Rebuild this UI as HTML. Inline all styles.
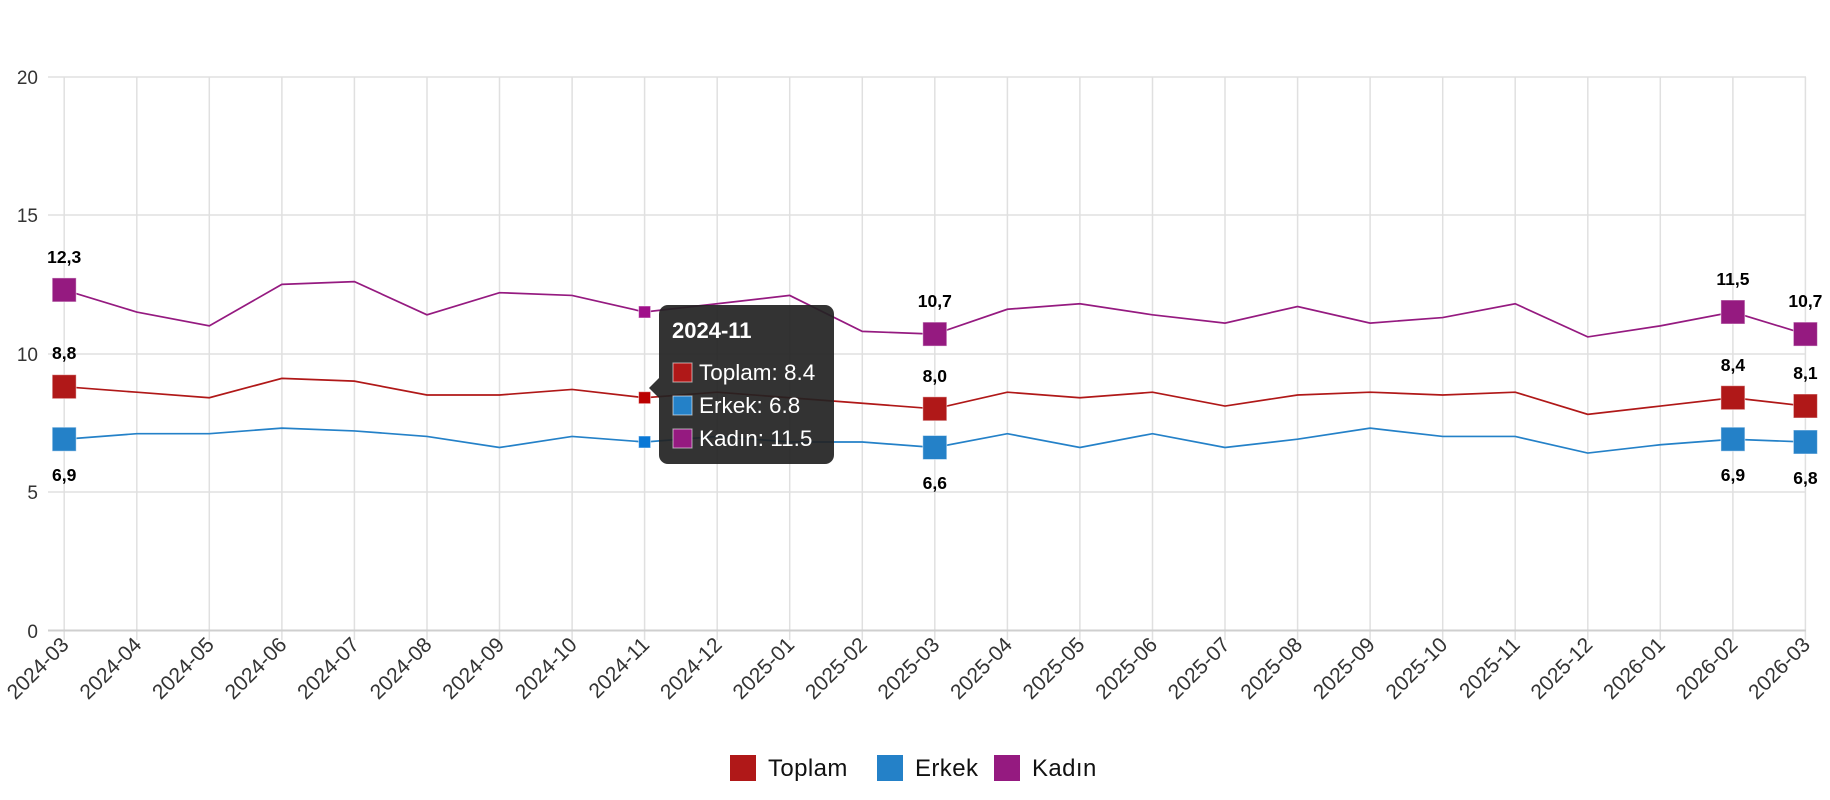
<!DOCTYPE html>
<html><head><meta charset="utf-8"><style>
html,body{margin:0;padding:0;background:#fff;}
svg{display:block;font-family:"Liberation Sans",sans-serif;}
</style></head><body>
<svg width="1830" height="800" viewBox="0 0 1830 800" xmlns="http://www.w3.org/2000/svg">
<g stroke="#e0e0e0" stroke-width="1.5">
<line x1="48" y1="77" x2="1806" y2="77"/><line x1="48" y1="215" x2="1806" y2="215"/><line x1="48" y1="354" x2="1806" y2="354"/><line x1="48" y1="492" x2="1806" y2="492"/>
<line x1="64.2" y1="77" x2="64.2" y2="640"/><line x1="136.8" y1="77" x2="136.8" y2="640"/><line x1="209.3" y1="77" x2="209.3" y2="640"/><line x1="281.9" y1="77" x2="281.9" y2="640"/><line x1="354.4" y1="77" x2="354.4" y2="640"/><line x1="427" y1="77" x2="427" y2="640"/><line x1="499.5" y1="77" x2="499.5" y2="640"/><line x1="572.1" y1="77" x2="572.1" y2="640"/><line x1="644.6" y1="77" x2="644.6" y2="640"/><line x1="717.2" y1="77" x2="717.2" y2="640"/><line x1="789.7" y1="77" x2="789.7" y2="640"/><line x1="862.3" y1="77" x2="862.3" y2="640"/><line x1="934.8" y1="77" x2="934.8" y2="640"/><line x1="1007.4" y1="77" x2="1007.4" y2="640"/><line x1="1079.9" y1="77" x2="1079.9" y2="640"/><line x1="1152.5" y1="77" x2="1152.5" y2="640"/><line x1="1225" y1="77" x2="1225" y2="640"/><line x1="1297.6" y1="77" x2="1297.6" y2="640"/><line x1="1370.1" y1="77" x2="1370.1" y2="640"/><line x1="1442.7" y1="77" x2="1442.7" y2="640"/><line x1="1515.2" y1="77" x2="1515.2" y2="640"/><line x1="1587.8" y1="77" x2="1587.8" y2="640"/><line x1="1660.3" y1="77" x2="1660.3" y2="640"/><line x1="1732.9" y1="77" x2="1732.9" y2="640"/><line x1="1805.4" y1="77" x2="1805.4" y2="640"/>
</g>
<line x1="48" y1="630.5" x2="1806" y2="630.5" stroke="#cfcfcf" stroke-width="2"/>
<g fill="#333" font-size="19" text-anchor="end">
<text x="38" y="84">20</text><text x="38" y="222">15</text><text x="38" y="361">10</text><text x="38" y="499">5</text><text x="38" y="638">0</text>
</g>
<g fill="#333" font-size="21" text-anchor="end">
<text transform="translate(70,646) rotate(-45)">2024-03</text><text transform="translate(142.8,646) rotate(-45)">2024-04</text><text transform="translate(215.3,646) rotate(-45)">2024-05</text><text transform="translate(287.9,646) rotate(-45)">2024-06</text><text transform="translate(360.4,646) rotate(-45)">2024-07</text><text transform="translate(433,646) rotate(-45)">2024-08</text><text transform="translate(505.5,646) rotate(-45)">2024-09</text><text transform="translate(578.1,646) rotate(-45)">2024-10</text><text transform="translate(650.6,646) rotate(-45)">2024-11</text><text transform="translate(723.2,646) rotate(-45)">2024-12</text><text transform="translate(795.7,646) rotate(-45)">2025-01</text><text transform="translate(868.3,646) rotate(-45)">2025-02</text><text transform="translate(940.8,646) rotate(-45)">2025-03</text><text transform="translate(1013.4,646) rotate(-45)">2025-04</text><text transform="translate(1085.9,646) rotate(-45)">2025-05</text><text transform="translate(1158.5,646) rotate(-45)">2025-06</text><text transform="translate(1231,646) rotate(-45)">2025-07</text><text transform="translate(1303.6,646) rotate(-45)">2025-08</text><text transform="translate(1376.1,646) rotate(-45)">2025-09</text><text transform="translate(1448.7,646) rotate(-45)">2025-10</text><text transform="translate(1521.2,646) rotate(-45)">2025-11</text><text transform="translate(1593.8,646) rotate(-45)">2025-12</text><text transform="translate(1666.3,646) rotate(-45)">2026-01</text><text transform="translate(1738.9,646) rotate(-45)">2026-02</text><text transform="translate(1811.4,646) rotate(-45)">2026-03</text>
</g>
<g transform="translate(64.2,630) scale(72.55,-27.65)" fill="none" stroke-width="1.7">
<polyline vector-effect="non-scaling-stroke" stroke="#2481c8" points="0,6.9 1,7.1 2,7.1 3,7.3 4,7.2 5,7.0 6,6.6 7,7.0 8,6.8 9,7.0 10,6.8 11,6.8 12,6.6 13,7.1 14,6.6 15,7.1 16,6.6 17,6.9 18,7.3 19,7.0 20,7.0 21,6.4 22,6.7 23,6.9 24,6.8"/>
<polyline vector-effect="non-scaling-stroke" stroke="#b01818" points="0,8.8 1,8.6 2,8.4 3,9.1 4,9.0 5,8.5 6,8.5 7,8.7 8,8.4 9,8.6 10,8.4 11,8.2 12,8.0 13,8.6 14,8.4 15,8.6 16,8.1 17,8.5 18,8.6 19,8.5 20,8.6 21,7.8 22,8.1 23,8.4 24,8.1"/>
<polyline vector-effect="non-scaling-stroke" stroke="#951a80" points="0,12.3 1,11.5 2,11.0 3,12.5 4,12.6 5,11.4 6,12.2 7,12.1 8,11.5 9,11.8 10,12.1 11,10.8 12,10.7 13,11.6 14,11.8 15,11.4 16,11.1 17,11.7 18,11.1 19,11.3 20,11.8 21,10.6 22,11.0 23,11.5 24,10.7"/>
</g>
<g stroke="#fff" stroke-opacity="0.5" stroke-width="1">
<rect x="52.2" y="277.9" width="24" height="24" fill="#951a80"/><rect x="52.2" y="374.7" width="24" height="24" fill="#b01818"/><rect x="52.2" y="427.2" width="24" height="24" fill="#2481c8"/>
<rect x="922.8" y="322.1" width="24" height="24" fill="#951a80"/><rect x="922.8" y="396.8" width="24" height="24" fill="#b01818"/><rect x="922.8" y="435.5" width="24" height="24" fill="#2481c8"/>
<rect x="1720.9" y="300" width="24" height="24" fill="#951a80"/><rect x="1720.9" y="385.7" width="24" height="24" fill="#b01818"/><rect x="1720.9" y="427.2" width="24" height="24" fill="#2481c8"/>
<rect x="1793.4" y="322.1" width="24" height="24" fill="#951a80"/><rect x="1793.4" y="394" width="24" height="24" fill="#b01818"/><rect x="1793.4" y="430" width="24" height="24" fill="#2481c8"/>
<rect x="638.6" y="306" width="12" height="12" fill="#a0108a"/><rect x="638.6" y="391.7" width="12" height="12" fill="#bb0000"/><rect x="638.6" y="436" width="12" height="12" fill="#0a78d6"/>
</g>
<g font-size="17.5" font-weight="bold" fill="#000" text-anchor="middle">
<text x="64.2" y="263">12,3</text><text x="64.2" y="359">8,8</text><text x="64.2" y="481">6,9</text>
<text x="934.8" y="307">10,7</text><text x="934.8" y="382">8,0</text><text x="934.8" y="489">6,6</text>
<text x="1732.9" y="285">11,5</text><text x="1732.9" y="371">8,4</text><text x="1732.9" y="481">6,9</text>
<text x="1805.4" y="307">10,7</text><text x="1805.4" y="379">8,1</text><text x="1805.4" y="484">6,8</text>
</g>
<g>
<rect x="659" y="305" width="175" height="159" rx="9" fill="#222" fill-opacity="0.92"/>
<polygon points="659,378 649,388 659,398" fill="#222" fill-opacity="0.92"/>
<text x="672" y="338" font-size="22" font-weight="bold" fill="#fff">2024-11</text>
<rect x="673" y="363" width="19" height="19" fill="#b01818" stroke="#fff" stroke-opacity="0.6"/>
<rect x="673" y="396" width="19" height="19" fill="#2481c8" stroke="#fff" stroke-opacity="0.6"/>
<rect x="673" y="429" width="19" height="19" fill="#951a80" stroke="#fff" stroke-opacity="0.6"/>
<g font-size="22.5" fill="#fff"><text x="699" y="380">Toplam: 8.4</text><text x="699" y="413">Erkek: 6.8</text><text x="699" y="446">Kadın: 11.5</text></g>
</g>
<g font-size="24" fill="#111" letter-spacing="0.4">
<rect x="730" y="755" width="26" height="26" fill="#b01818"/><text x="768" y="776">Toplam</text>
<rect x="877" y="755" width="26" height="26" fill="#2481c8"/><text x="915" y="776">Erkek</text>
<rect x="994" y="755" width="26" height="26" fill="#951a80"/><text x="1032" y="776">Kadın</text>
</g>
</svg>
</body></html>
